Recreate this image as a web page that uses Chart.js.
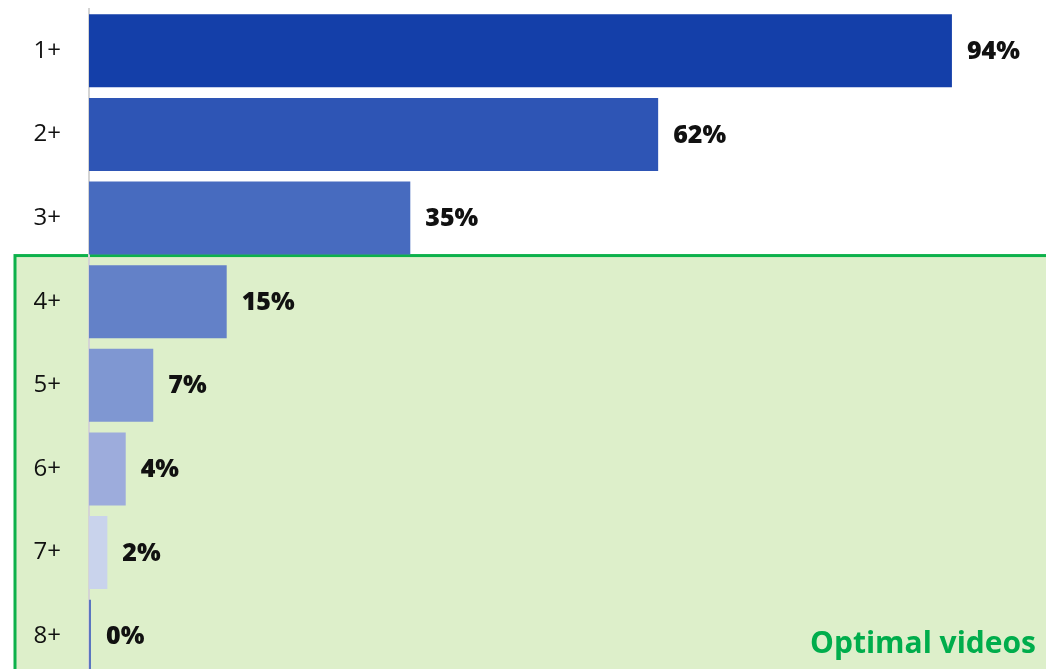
<!DOCTYPE html>
<html>
<head>
<meta charset="utf-8">
<script src="https://cdn.jsdelivr.net/npm/chart.js@4"></script>
<style>
  html, body { margin: 0; padding: 0; background: #fff; overflow: hidden; }
  canvas { display: block; }
</style>
</head>
<body>
<canvas id="videoChart" width="1046" height="678"></canvas>
<script>
// Data
const categories = ['1+', '2+', '3+', '4+', '5+', '6+', '7+', '8+'];
const shares = [94, 62, 35, 15, 7, 4, 2, 0];
const barColors = ['#143fa9', '#2e55b5', '#476bbf', '#6381c8', '#7f97d2', '#9dacdc', '#c9d3ec', '#5a75c0'];
const optimalFrom = 3; // index of '4+'
const optimalLabel = 'Optimal videos';

// green box behind the optimal rows
const optimalBox = {
    id: 'optimalBox',
    beforeDraw(chart) {
        const ctx = chart.ctx;
        const prev = chart.getDatasetMeta(0).data[optimalFrom - 1];
        const top = prev.y + prev.height / 2 + 1;
        const left = chart.chartArea.left - 74;
        ctx.save();
        ctx.fillStyle = '#ddefca';
        ctx.fillRect(left, top, chart.width, chart.height);
        ctx.strokeStyle = '#0db14b';
        ctx.lineWidth = 3;
        ctx.strokeRect(left, top, chart.width + 20, chart.height + 20);
        ctx.restore();
    }
};

// value labels and the box caption
const valueLabels = {
    id: 'valueLabels',
    afterDatasetsDraw(chart) {
        const ctx = chart.ctx;
        ctx.save();
        ctx.font = '800 25px "Open Sans"';
        ctx.fillStyle = '#111';
        ctx.textBaseline = 'middle';
        ctx.textAlign = 'left';
        chart.getDatasetMeta(0).data.forEach((bar, i) => {
            ctx.fillText(shares[i] + '%', bar.x + 15, bar.y + 1);
        });
        ctx.font = 'bold 30px "Open Sans"';
        ctx.fillStyle = '#00ad4c';
        ctx.textAlign = 'right';
        ctx.textBaseline = 'alphabetic';
        ctx.fillText(optimalLabel, chart.width - 10, 653);
        ctx.restore();
    }
};

const data = {
    labels: categories,
    datasets: [{
        data: shares,
        backgroundColor: barColors,
        borderWidth: 0,
        categoryPercentage: 1,
        barPercentage: 0.873,
        minBarLength: 2
    }]
};

const config = {
    type: 'bar',
    data: data,
    options: {
        indexAxis: 'y',
        responsive: false,
        animation: false,
        layout: { padding: { top: 9, right: 39, bottom: 0, left: 0 } },
        plugins: {
            legend: { display: false },
            tooltip: { enabled: false }
        },
        scales: {
            x: {
                display: false,
                min: 0,
                max: 100
            },
            y: {
                afterFit(scale) {
                    scale.width = 89;
                    scale.paddingTop = 0;
                    scale.paddingBottom = 0;
                },
                grid: { display: false, drawTicks: false },
                border: { display: true, color: '#d4d4d4', width: 2 },
                ticks: {
                    padding: 28,
                    color: '#111',
                    font: { family: 'Open Sans', size: 24 }
                }
            }
        }
    },
    plugins: [optimalBox, valueLabels]
};

const videoChart = new Chart(document.getElementById('videoChart'), config);
</script>
</body>
</html>
